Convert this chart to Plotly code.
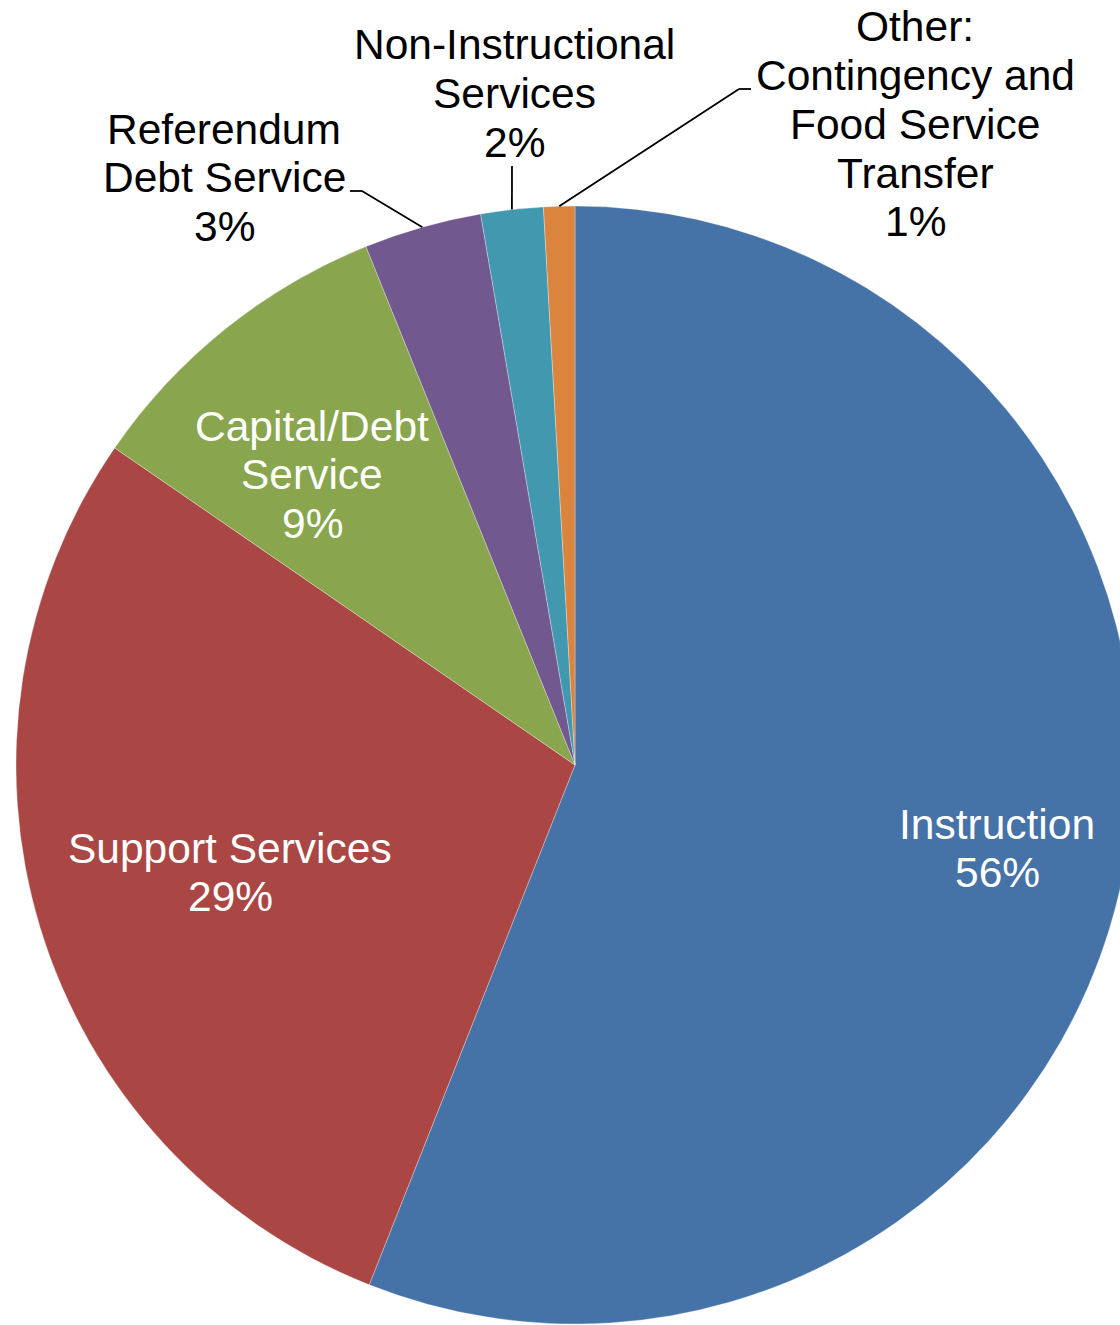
import math
import plotly.graph_objects as go

# ---- data ---------------------------------------------------------------
categories = [
    "Instruction",
    "Support Services",
    "Capital/Debt Service",
    "Referendum Debt Service",
    "Non-Instructional Services",
    "Other: Contingency and Food Service Transfer",
]
shares = [56.0, 28.6, 9.3, 3.4, 1.8, 0.9]
label_lines = [
    ["Instruction"],
    ["Support Services"],
    ["Capital/Debt", "Service"],
    ["Referendum", "Debt Service"],
    ["Non-Instructional", "Services"],
    ["Other:", "Contingency and", "Food Service", "Transfer"],
]
colors = ["#4572A7", "#AA4643", "#89A54E", "#71588F", "#4198AF", "#DB843D"]

# ---- geometry (pixels) --------------------------------------------------
W, H = 1150, 1325
CX, CY, R = 575, 765, 559
LINE_GAP = 48.7
FONT = "Liberation Sans, Arial, sans-serif"
FONT_SIZE = 42.5

# label block: (centre x, first line y, text colour)
label_pos = [
    (997, 824, "white"),
    (230, 848, "white"),
    (312, 426, "white"),
    (224, 129, "black"),
    (514, 45, "black"),
    (915, 27, "black"),
]
# leader line elbows for the outside labels (slice index -> points)
leader_elbows = {
    3: [(350, 191), (362, 191)],
    4: [(512, 166)],
    5: [(751, 89), (739, 89)],
}


def px(x):
    return x / W


def py(y):
    return 1 - y / H


total = sum(shares)

fig = go.Figure(
    go.Pie(
        labels=categories,
        values=shares,
        sort=False,
        direction="clockwise",
        rotation=0,
        textinfo="none",
        marker=dict(colors=colors, line=dict(color="rgba(255,255,255,0.5)", width=0.6)),
        domain=dict(x=[px(CX - R), px(CX + R)], y=[py(CY + R), py(CY - R)]),
        showlegend=False,
        hovertemplate="%{label}: %{percent:.0%}<extra></extra>",
    )
)

annotations = []
for lines, share, (lx, ly, col) in zip(label_lines, shares, label_pos):
    texts = lines + [f"{round(share / total * 100)}%"]
    for i, t in enumerate(texts):
        annotations.append(
            dict(
                x=px(lx), y=py(ly + i * LINE_GAP), xref="paper", yref="paper",
                text=t, showarrow=False, xanchor="center", yanchor="middle",
                font=dict(family=FONT, size=FONT_SIZE, color=col),
            )
        )

# leader lines run from the label to the middle of each small slice's arc
shapes = []
cum = 0.0
mids = []
for s in shares:
    mids.append((cum + s / 2) / total)
    cum += s
for idx, elbows in leader_elbows.items():
    ang = mids[idx] * 2 * math.pi
    tip = (CX + R * math.sin(ang), CY - R * math.cos(ang))
    pts = elbows + [tip]
    for (x0, y0), (x1, y1) in zip(pts[:-1], pts[1:]):
        shapes.append(
            dict(type="line", xref="paper", yref="paper",
                 x0=px(x0), y0=py(y0), x1=px(x1), y1=py(y1),
                 line=dict(color="black", width=1.8))
        )

fig.update_layout(
    width=W, height=H,
    margin=dict(l=0, r=0, t=0, b=0),
    paper_bgcolor="white", plot_bgcolor="white",
    annotations=annotations, shapes=shapes,
    font=dict(family=FONT),
)

fig.write_html(
    "out.html",
    post_script="document.body.style.margin='0';"
                "document.body.style.overflow='hidden';"
                "document.documentElement.style.overflow='hidden';",
)
